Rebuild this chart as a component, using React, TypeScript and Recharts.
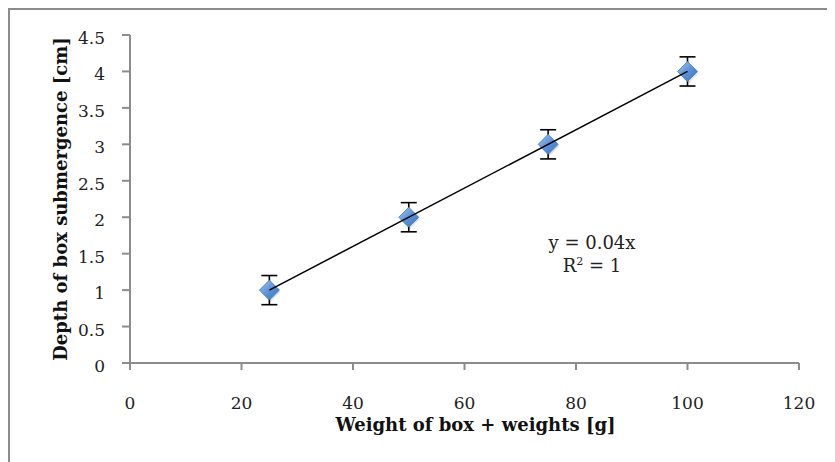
import React from "react";
import { ScatterChart, Scatter, XAxis, YAxis, ErrorBar } from "recharts";

const weights = [25, 50, 75, 100];
const depths = [1, 2, 3, 4];
const depthErr = [0.2, 0.2, 0.2, 0.2];
const trendX = [25, 100];
const trendY = [1, 4];
const xTicks = [0, 20, 40, 60, 80, 100, 120];
const yTicks = [0, 0.5, 1, 1.5, 2, 2.5, 3, 3.5, 4, 4.5];

const points = weights.map((w, i) => ({ x: w, y: depths[i], err: depthErr[i] }));
const trend = trendX.map((x, i) => ({ x, y: trendY[i] }));

const FONT = "DejaVu Serif, Liberation Serif, serif";
const AXIS = "#8c8c8c";

const Diamond = (props: any) => {
  const { cx, cy } = props;
  const r = 10;
  return (
    <g>
      <path
        d={`M${cx + 1},${cy - r + 2} L${cx + r + 1},${cy + 2} L${cx + 1},${cy + r + 2} L${cx - r + 1},${cy + 2} Z`}
        fill="rgba(0,0,0,0.12)"
      />
      <path
        d={`M${cx},${cy - r} L${cx + r},${cy} L${cx},${cy + r} L${cx - r},${cy} Z`}
        fill="url(#mk)"
        stroke="#3f78c0"
        strokeWidth={0.8}
      />
    </g>
  );
};

const Nothing = () => <g />;

const XTick = (props: any) => {
  const { x, y, payload } = props;
  return (
    <text x={x} y={y + 37} textAnchor="middle" fontFamily={FONT} fontSize={17} fill="#222">
      {payload.value}
    </text>
  );
};

const YTick = (props: any) => {
  const { x, y, payload } = props;
  return (
    <text x={x - 15} y={y + 9} textAnchor="end" fontFamily={FONT} fontSize={17} fill="#222">
      {payload.value}
    </text>
  );
};

const YTitle = (props: any) => {
  const vb = props.viewBox;
  const cy = vb.y + vb.height / 2;
  const cx = 50;
  return (
    <text
      x={cx}
      y={cy}
      transform={`rotate(-90 ${cx} ${cy})`}
      textAnchor="middle"
      dominantBaseline="central"
      fontFamily={FONT}
      fontWeight="bold"
      fontSize={18}
      fill="#111"
    >
      Depth of box submergence [cm]
    </text>
  );
};

const XTitle = (props: any) => {
  const vb = props.viewBox;
  return (
    <text
      x={vb.x + vb.width / 2 + 11}
      y={421}
      textAnchor="middle"
      fontFamily={FONT}
      fontWeight="bold"
      fontSize={18}
      fill="#111"
    >
      Weight of box + weights [g]
    </text>
  );
};

export default function App() {
  return (
    <div
      style={{
        position: "relative",
        width: 827,
        height: 454,
        borderLeft: `2px solid ${AXIS}`,
        borderTop: `2px solid ${AXIS}`,
        background: "#fff",
      }}
    >
      <ScatterChart width={825} height={452} margin={{ top: 25, right: 36, bottom: 0, left: 0 }}>
        <defs>
          <linearGradient id="mk" x1="0" y1="0" x2="1" y2="1">
            <stop offset="0%" stopColor="#a9c8ee" />
            <stop offset="50%" stopColor="#5b93d8" />
            <stop offset="100%" stopColor="#3c74bf" />
          </linearGradient>
        </defs>
        <XAxis
          type="number"
          dataKey="x"
          domain={[0, 120]}
          ticks={xTicks}
          height={99}
          stroke={AXIS}
          strokeWidth={2}
          tickSize={7}
          tick={<XTick />}
          label={{ content: XTitle }}
          allowDataOverflow
        />
        <YAxis
          type="number"
          dataKey="y"
          domain={[0, 4.5]}
          ticks={yTicks}
          width={120}
          stroke={AXIS}
          strokeWidth={2}
          tickSize={8}
          tick={<YTick />}
          label={{ content: YTitle }}
          allowDataOverflow
        />
        <Scatter data={points} shape={<Nothing />} isAnimationActive={false}>
          <ErrorBar dataKey="err" direction="y" width={8} stroke="#000" strokeWidth={1.6} isAnimationActive={false} />
        </Scatter>
        <Scatter data={points} shape={<Diamond />} isAnimationActive={false} />
        <Scatter
          data={trend}
          line={{ stroke: "#000", strokeWidth: 1.5 }}
          shape={<Nothing />}
          isAnimationActive={false}
        />
      </ScatterChart>
      <div
        style={{
          position: "absolute",
          left: 522,
          top: 221,
          width: 120,
          textAlign: "center",
          fontFamily: FONT,
          fontSize: 18,
          lineHeight: "23px",
          color: "#222",
        }}
      >
        <div>y = 0.04x</div>
        <div>
          R<sup style={{ fontSize: 11, verticalAlign: "7px", lineHeight: 0 }}>2</sup> = 1
        </div>
      </div>
    </div>
  );
}
